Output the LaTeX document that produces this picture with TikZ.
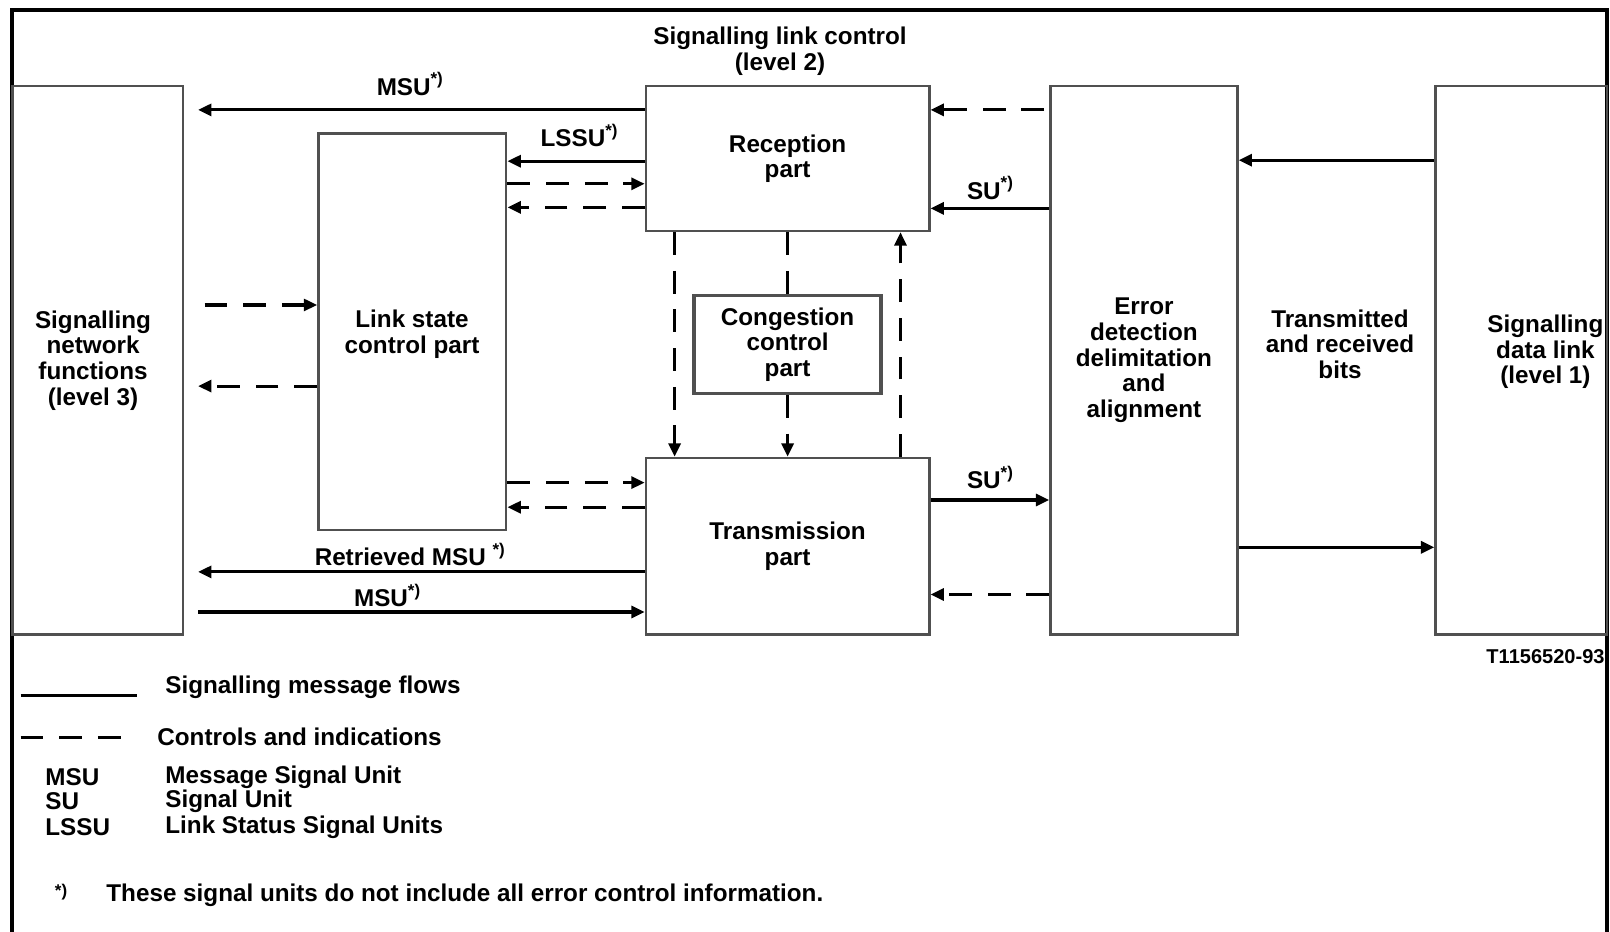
\documentclass[tikz,border=0pt]{standalone}
\usepackage{fontspec}
\setmainfont{Liberation Sans}
\usetikzlibrary{arrows.meta}
\definecolor{boxline}{HTML}{505050}

\begin{document}
\begin{tikzpicture}[every node/.style={font=\fontsize{6.9}{7.3}\selectfont\bfseries, align=center},
  box/.style={draw=boxline, line width=0.7pt, rectangle, inner sep=0pt},
  flow/.style={line width=0.9pt, -{Triangle[length=3.8pt,width=3.4pt]}},
  ctrl/.style={flow, dash pattern=on 6.5pt off 4.5pt},
  gap/.style={shorten >=1.4mm}]
  \useasboundingbox (0,0) rectangle (16.1,9.32);
  % Frame
  \draw[line width=1.2pt] (0.123,0) -- (0.123,9.217) -- (16.07,9.217) -- (16.07,0);
  % Blocks
  \node[box, minimum width=1.705cm, minimum height=5.483cm] (l3) at (0.976,5.716) {};
  \node (l3text) at (0.93,5.716) {Signalling\\network\\functions\\(level 3)};
  \node[box, minimum width=1.879cm, minimum height=3.963cm] (lsc) at (4.123,6.004) {};
  \node (lsctext) at (4.12,5.98) {Link state\\control part};
  \node[box, minimum width=2.834cm, minimum height=1.447cm] (rec) at (7.876,7.734) {Reception\\part};
  \node[box, line width=1pt, minimum width=1.869cm, minimum height=0.976cm] (cong) at (7.876,5.875) {Congestion\\control\\part};
  \node[box, minimum width=2.834cm, minimum height=1.766cm] (trans) at (7.876,3.857) {Transmission\\part};
  \node[box, minimum width=1.869cm, minimum height=5.483cm] (err) at (11.439,5.716) {Error\\detection\\delimitation\\and\\alignment};
  \node[box, minimum width=1.715cm, minimum height=5.483cm] (l1) at (15.213,5.716) {};
  \node (l1text) at (15.454,5.80) {Signalling\\data link\\(level 1)};
  \node (bits) at (13.40,5.88) {Transmitted\\and received\\bits};
  \node (title) at (7.80,8.81) {Signalling link control\\(level 2)};
  % Level 3 <-> level 2
  \draw[flow, gap] (rec.west |- 0,8.221) -- (l3.east |- 0,8.221);
  \draw[flow] (rec.west |- 0,7.708) -- (lsc.east |- 0,7.708);
  \draw[ctrl] (lsc.east |- 0,7.482) -- (rec.west |- 0,7.482);
  \draw[ctrl] (rec.west |- 0,7.246) -- (lsc.east |- 0,7.246);
  \draw[ctrl, shorten <=2.05mm] (l3.east |- 0,6.270) -- (lsc.west |- 0,6.270);
  \draw[ctrl, gap] (lsc.west |- 0,5.459) -- (l3.east |- 0,5.459);
  \draw[ctrl] (lsc.east |- 0,4.494) -- (trans.west |- 0,4.494);
  \draw[ctrl] (trans.west |- 0,4.248) -- (lsc.east |- 0,4.248);
  \draw[flow, gap] (trans.west |- 0,3.601) -- (l3.east |- 0,3.601);
  \draw[flow, shorten <=1.4mm] (l3.east |- 0,3.200) -- (trans.west |- 0,3.200);
  \node (msu1) at (4.107,8.478) {MSU\textsuperscript{*)}};
  \node (lssu) at (5.80,7.965) {LSSU\textsuperscript{*)}};
  \node (rmsu) at (4.107,3.775) {Retrieved MSU \textsuperscript{*)}};
  \node (msu2) at (3.88,3.364) {MSU\textsuperscript{*)}};
  % Inside level 2
  \draw[ctrl] (rec.south -| 6.746,0) -- (trans.north -| 6.746,0);
  \draw[ctrl, -] (rec.south) -- (cong.north);
  \draw[ctrl] (cong.south) -- (trans.north);
  \draw[ctrl] (trans.north -| 9.005,0) -- (rec.south -| 9.005,0);
  % Level 2 <-> level 1
  \draw[ctrl, shorten <=0.5mm] (err.west |- 0,8.221) -- (rec.east |- 0,8.221);
  \draw[flow] (err.west |- 0,7.236) -- (rec.east |- 0,7.236);
  \draw[flow] (trans.east |- 0,4.320) -- (err.west |- 0,4.320);
  \draw[ctrl] (err.west |- 0,3.375) -- (trans.east |- 0,3.375);
  \draw[flow] (l1.west |- 0,7.718) -- (err.east |- 0,7.718);
  \draw[flow] (err.east |- 0,3.847) -- (l1.west |- 0,3.847);
  \node (su1) at (9.909,7.441) {SU\textsuperscript{*)}};
  \node (su2) at (9.909,4.545) {SU\textsuperscript{*)}};
  \node[anchor=east, inner sep=0.5pt, font=\fontsize{5.7}{6}\selectfont\bfseries] (ref) at (16.07,2.75) {T1156520-93};
  % Legend
  \coordinate (solidA) at (0.205,2.369); \coordinate (solidB) at (1.366,2.369);
  \coordinate (dashA) at (0.205,1.947); \coordinate (dashB) at (1.294,1.947);
  \draw[line width=0.9pt] (solidA) -- (solidB);
  \draw[line width=0.9pt, dash pattern=on 6.5pt off 4.5pt] (dashA) -- (dashB);
  \node[anchor=west] (legsolid) at (1.53,2.451) {Signalling message flows};
  \node[anchor=west] (legdash) at (1.45,1.947) {Controls and indications};
  \node[anchor=west] (abmsu) at (0.33,1.547) {MSU};
  \node[anchor=west] (abmsutxt) at (1.53,1.547) {Message Signal Unit};
  \node[anchor=west] (absu) at (0.33,1.311) {SU};
  \node[anchor=west] (absutxt) at (1.53,1.311) {Signal Unit};
  \node[anchor=west] (ablssu) at (0.33,1.044) {LSSU};
  \node[anchor=west] (ablssutxt) at (1.53,1.044) {Link Status Signal Units};
  \node (note) at (0.62,0.366) {\textsuperscript{*)}};
  \node[anchor=west] (notetxt) at (0.94,0.366) {These signal units do not include all error control information.};
\end{tikzpicture}
\end{document}
